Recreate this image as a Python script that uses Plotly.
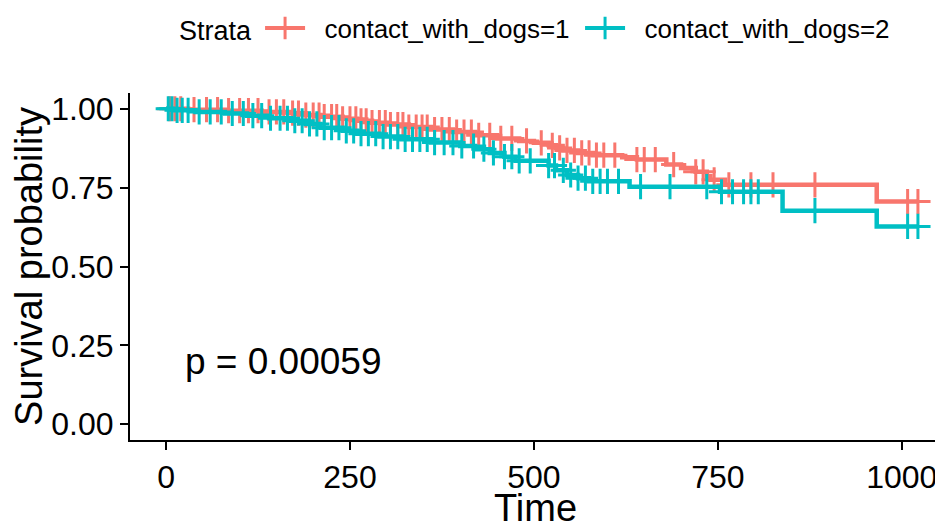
import numpy as np
import plotly.graph_objects as go

# Kaplan-Meier step estimates
red_time = [0, 30, 80, 130, 170, 190, 210, 240, 260, 280, 300, 330, 360, 390, 420, 450, 480, 500,
            520, 530, 540, 560, 580, 620, 640, 680, 700, 720, 735, 740, 760, 966, 1022]
red_surv = [1.0, 0.997, 0.994, 0.990, 0.986, 0.980, 0.975, 0.968, 0.962, 0.956, 0.950, 0.942, 0.934,
            0.926, 0.916, 0.906, 0.898, 0.892, 0.884, 0.876, 0.868, 0.860, 0.853, 0.846, 0.839, 0.823,
            0.812, 0.800, 0.786, 0.775, 0.759, 0.706, 0.706]
teal_time = [0, 10, 40, 80, 110, 140, 170, 190, 210, 240, 260, 290, 320, 360, 400, 420, 440, 460, 475,
             520, 530, 545, 560, 575, 630, 753, 838, 966, 1022]
teal_surv = [1.0, 0.995, 0.990, 0.985, 0.978, 0.970, 0.962, 0.952, 0.940, 0.930, 0.921, 0.912, 0.903,
             0.893, 0.882, 0.872, 0.860, 0.848, 0.835, 0.820, 0.805, 0.790, 0.780, 0.770, 0.753, 0.737,
             0.677, 0.627, 0.627]

red_censor = [5, 12, 20, 38, 55, 70, 85, 100, 112, 125, 140, 150, 160, 172, 180, 190, 200, 208, 215,
              225, 232, 240, 250, 258, 265, 272, 280, 290, 298, 305, 315, 322, 330, 340, 348, 355, 365,
              375, 385, 395, 405, 415, 425, 440, 455, 470, 490, 510, 525, 535, 545, 555, 565, 575, 585,
              595, 610, 640, 650, 665, 690, 720, 730, 745, 765, 795, 825, 882, 1008, 1022]
teal_censor = [3, 8, 15, 22, 30, 45, 60, 75, 90, 105, 118, 130, 142, 155, 165, 175, 185, 195, 205, 215,
               225, 235, 245, 255, 265, 275, 285, 295, 305, 315, 325, 335, 345, 355, 365, 378, 390, 402,
               418, 432, 445, 460, 470, 480, 495, 520, 528, 540, 550, 560, 570, 580, 590, 600, 615, 645,
               685, 735, 755, 770, 785, 795, 805, 882, 1008, 1022]

x_ticks = [0, 250, 500, 750, 1000]
y_ticks = [0.0, 0.25, 0.5, 0.75, 1.0]
labels = ["contact_with_dogs=1", "contact_with_dogs=2"]
colors = ["#F8766D", "#00BFC4"]
p_text = "p = 0.00059"
x_title = "Time"
y_title = "Survival probability"


def step_at(times, surv, t):
    idx = np.searchsorted(np.asarray(times), np.asarray(t), side="right") - 1
    return np.asarray(surv)[idx]


fig = go.Figure()
groups = [(red_time, red_surv, red_censor), (teal_time, teal_surv, teal_censor)]
for (tt, ss, cc), lab, col in zip(groups, labels, colors):
    fig.add_trace(go.Scatter(x=tt, y=ss, mode="lines", line=dict(color=col, width=4.5, shape="hv"),
                             legendgroup=lab, showlegend=False, hoverinfo="skip"))
    fig.add_trace(go.Scatter(x=cc, y=step_at(tt, ss, cc), mode="markers", name=lab, legendgroup=lab,
                             marker=dict(symbol="cross-thin", size=18, color=col,
                                         line=dict(color=col, width=3)),
                             showlegend=False))
    # legend entry: line with cross
    fig.add_trace(go.Scatter(x=[None], y=[None], mode="lines+markers", name="\u00a0\u00a0" + lab,
                             legendgroup=lab,
                             line=dict(color=col, width=4),
                             marker=dict(symbol="cross-thin", size=18, color=col,
                                         line=dict(color=col, width=3))))

fig.add_annotation(x=23, y=0.2, xref="x", yref="y", text=p_text, showarrow=False,
                   xanchor="left", yanchor="middle", font=dict(size=37, color="black"))
fig.add_annotation(x=0.5, y=-0.195, xref="paper", yref="paper", text=x_title, showarrow=False,
                   xanchor="center", yanchor="middle", font=dict(size=38, color="black"))

fig.update_layout(
    width=943, height=527,
    margin=dict(l=122, r=11, t=85, b=95),
    plot_bgcolor="white", paper_bgcolor="white",
    font=dict(family="Liberation Sans, Arial, sans-serif", color="black"),
    legend=dict(orientation="h", x=0.505, xanchor="center", y=0.962, yref="container", yanchor="middle",
                title=dict(text="Strata", font=dict(size=27)), font=dict(size=26),
                itemwidth=40, entrywidth=265, entrywidthmode="pixels"),
    xaxis=dict(range=[-49, 1052], tickvals=x_ticks, ticktext=[str(v) for v in x_ticks],
               showgrid=False, zeroline=False, showline=True, linecolor="black", linewidth=2,
               ticks="outside", ticklen=8, tickwidth=2, tickcolor="black", automargin=False,
               tickfont=dict(size=32)),
    yaxis=dict(range=[-0.05, 1.05], tickvals=y_ticks, ticktext=[f"{v:.2f}" for v in y_ticks],
               showgrid=False, zeroline=False, showline=True, linecolor="black", linewidth=2,
               ticks="outside", ticklen=8, tickwidth=2, tickcolor="black", automargin=False,
               tickfont=dict(size=32), title=dict(text=y_title, font=dict(size=38), standoff=0)),
)

fig.write_html("out.html")
